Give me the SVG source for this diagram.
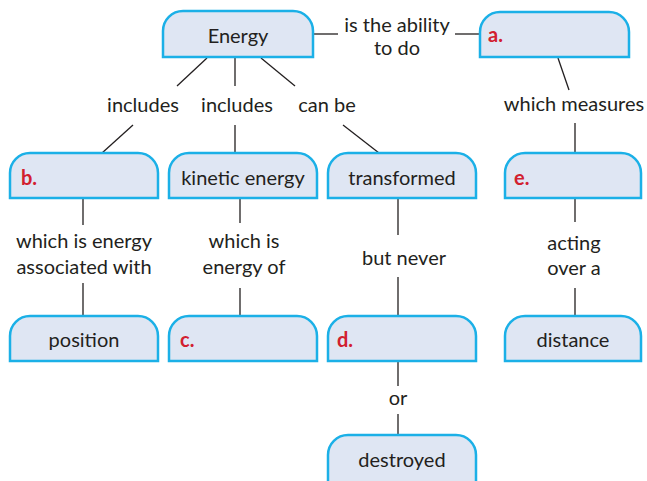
<svg xmlns="http://www.w3.org/2000/svg" width="647" height="481" viewBox="0 0 647 481">
<style>
.node{fill:#dfe6f3;stroke:#1bb0e7;stroke-width:2.5}
.t{font-family:Lato,"Open Sans",sans-serif;font-size:20px;fill:#231f20;text-anchor:middle}
.r{font-family:Lato,"Open Sans",sans-serif;font-size:20px;font-weight:bold;fill:#d2202f}
.c line{stroke:#231f20;stroke-width:1.3}
</style>
<rect width="647" height="481" fill="#fff"/>
<g class="c" id="connectors">
<line x1="313" y1="34" x2="338" y2="34"/>
<line x1="455" y1="34" x2="480" y2="34"/>
<line x1="207" y1="58" x2="177" y2="86"/>
<line x1="235" y1="58" x2="235" y2="86"/>
<line x1="261" y1="58" x2="295" y2="86"/>
<line x1="133" y1="125" x2="102" y2="153"/>
<line x1="235" y1="125" x2="235" y2="153"/>
<line x1="343" y1="125" x2="379" y2="153"/>
<line x1="558" y1="58" x2="569" y2="90"/>
<line x1="575" y1="123" x2="575" y2="153"/>
<line x1="83" y1="198" x2="83" y2="225"/>
<line x1="83" y1="283" x2="83" y2="316"/>
<line x1="240" y1="198" x2="240" y2="223"/>
<line x1="240" y1="288" x2="240" y2="316"/>
<line x1="398" y1="198" x2="398" y2="235"/>
<line x1="398" y1="277" x2="398" y2="316"/>
<line x1="575" y1="198" x2="575" y2="222"/>
<line x1="575" y1="288" x2="575" y2="316"/>
<line x1="398" y1="361" x2="398" y2="386"/>
<line x1="398" y1="414" x2="398" y2="435"/>
</g>
<g id="labels">
<text class="t" x="397" y="32">is the ability</text>
<text class="t" x="397" y="55">to do</text>
<text class="t" x="143" y="112">includes</text>
<text class="t" x="237" y="112">includes</text>
<text class="t" x="327" y="112">can be</text>
<text class="t" x="574" y="111">which measures</text>
<text class="t" x="84" y="248">which is energy</text>
<text class="t" x="84" y="274">associated with</text>
<text class="t" x="244" y="248">which is</text>
<text class="t" x="244" y="274">energy of</text>
<text class="t" x="404" y="265">but never</text>
<text class="t" x="574" y="250">acting</text>
<text class="t" x="574" y="275">over a</text>
<text class="t" x="398" y="405">or</text>
</g>
<g id="n-energy"><path class="node" d="M163,57V31A20,20 0 0 1 183,11H293A20,20 0 0 1 313,31V57Z"/><text class="t" x="238" y="43">Energy</text></g>
<g id="n-a"><path class="node" d="M480,57V32A20,20 0 0 1 500,12H609A20,20 0 0 1 629,32V57Z"/><text class="r" x="488" y="42">a.</text></g>
<g id="n-b"><path class="node" d="M10,198V173A20,20 0 0 1 30,153H138A20,20 0 0 1 158,173V198Z"/><text class="r" x="21" y="185">b.</text></g>
<g id="n-kinetic"><path class="node" d="M169,198V173A20,20 0 0 1 189,153H297A20,20 0 0 1 317,173V198Z"/><text class="t" x="243" y="185">kinetic energy</text></g>
<g id="n-transformed"><path class="node" d="M328,198V173A20,20 0 0 1 348,153H456A20,20 0 0 1 476,173V198Z"/><text class="t" x="402" y="185">transformed</text></g>
<g id="n-e"><path class="node" d="M505,198V173A20,20 0 0 1 525,153H621A20,20 0 0 1 641,173V198Z"/><text class="r" x="514" y="185">e.</text></g>
<g id="n-position"><path class="node" d="M10,361V336A20,20 0 0 1 30,316H138A20,20 0 0 1 158,336V361Z"/><text class="t" x="84" y="347">position</text></g>
<g id="n-c"><path class="node" d="M169,361V336A20,20 0 0 1 189,316H297A20,20 0 0 1 317,336V361Z"/><text class="r" x="180" y="347">c.</text></g>
<g id="n-d"><path class="node" d="M328,361V336A20,20 0 0 1 348,316H456A20,20 0 0 1 476,336V361Z"/><text class="r" x="337" y="347">d.</text></g>
<g id="n-distance"><path class="node" d="M505,361V336A20,20 0 0 1 525,316H621A20,20 0 0 1 641,336V361Z"/><text class="t" x="573" y="347">distance</text></g>
<g id="n-destroyed"><path class="node" d="M328,490V455A20,20 0 0 1 348,435H456A20,20 0 0 1 476,455V490Z"/><text class="t" x="402" y="467">destroyed</text></g>
</svg>
